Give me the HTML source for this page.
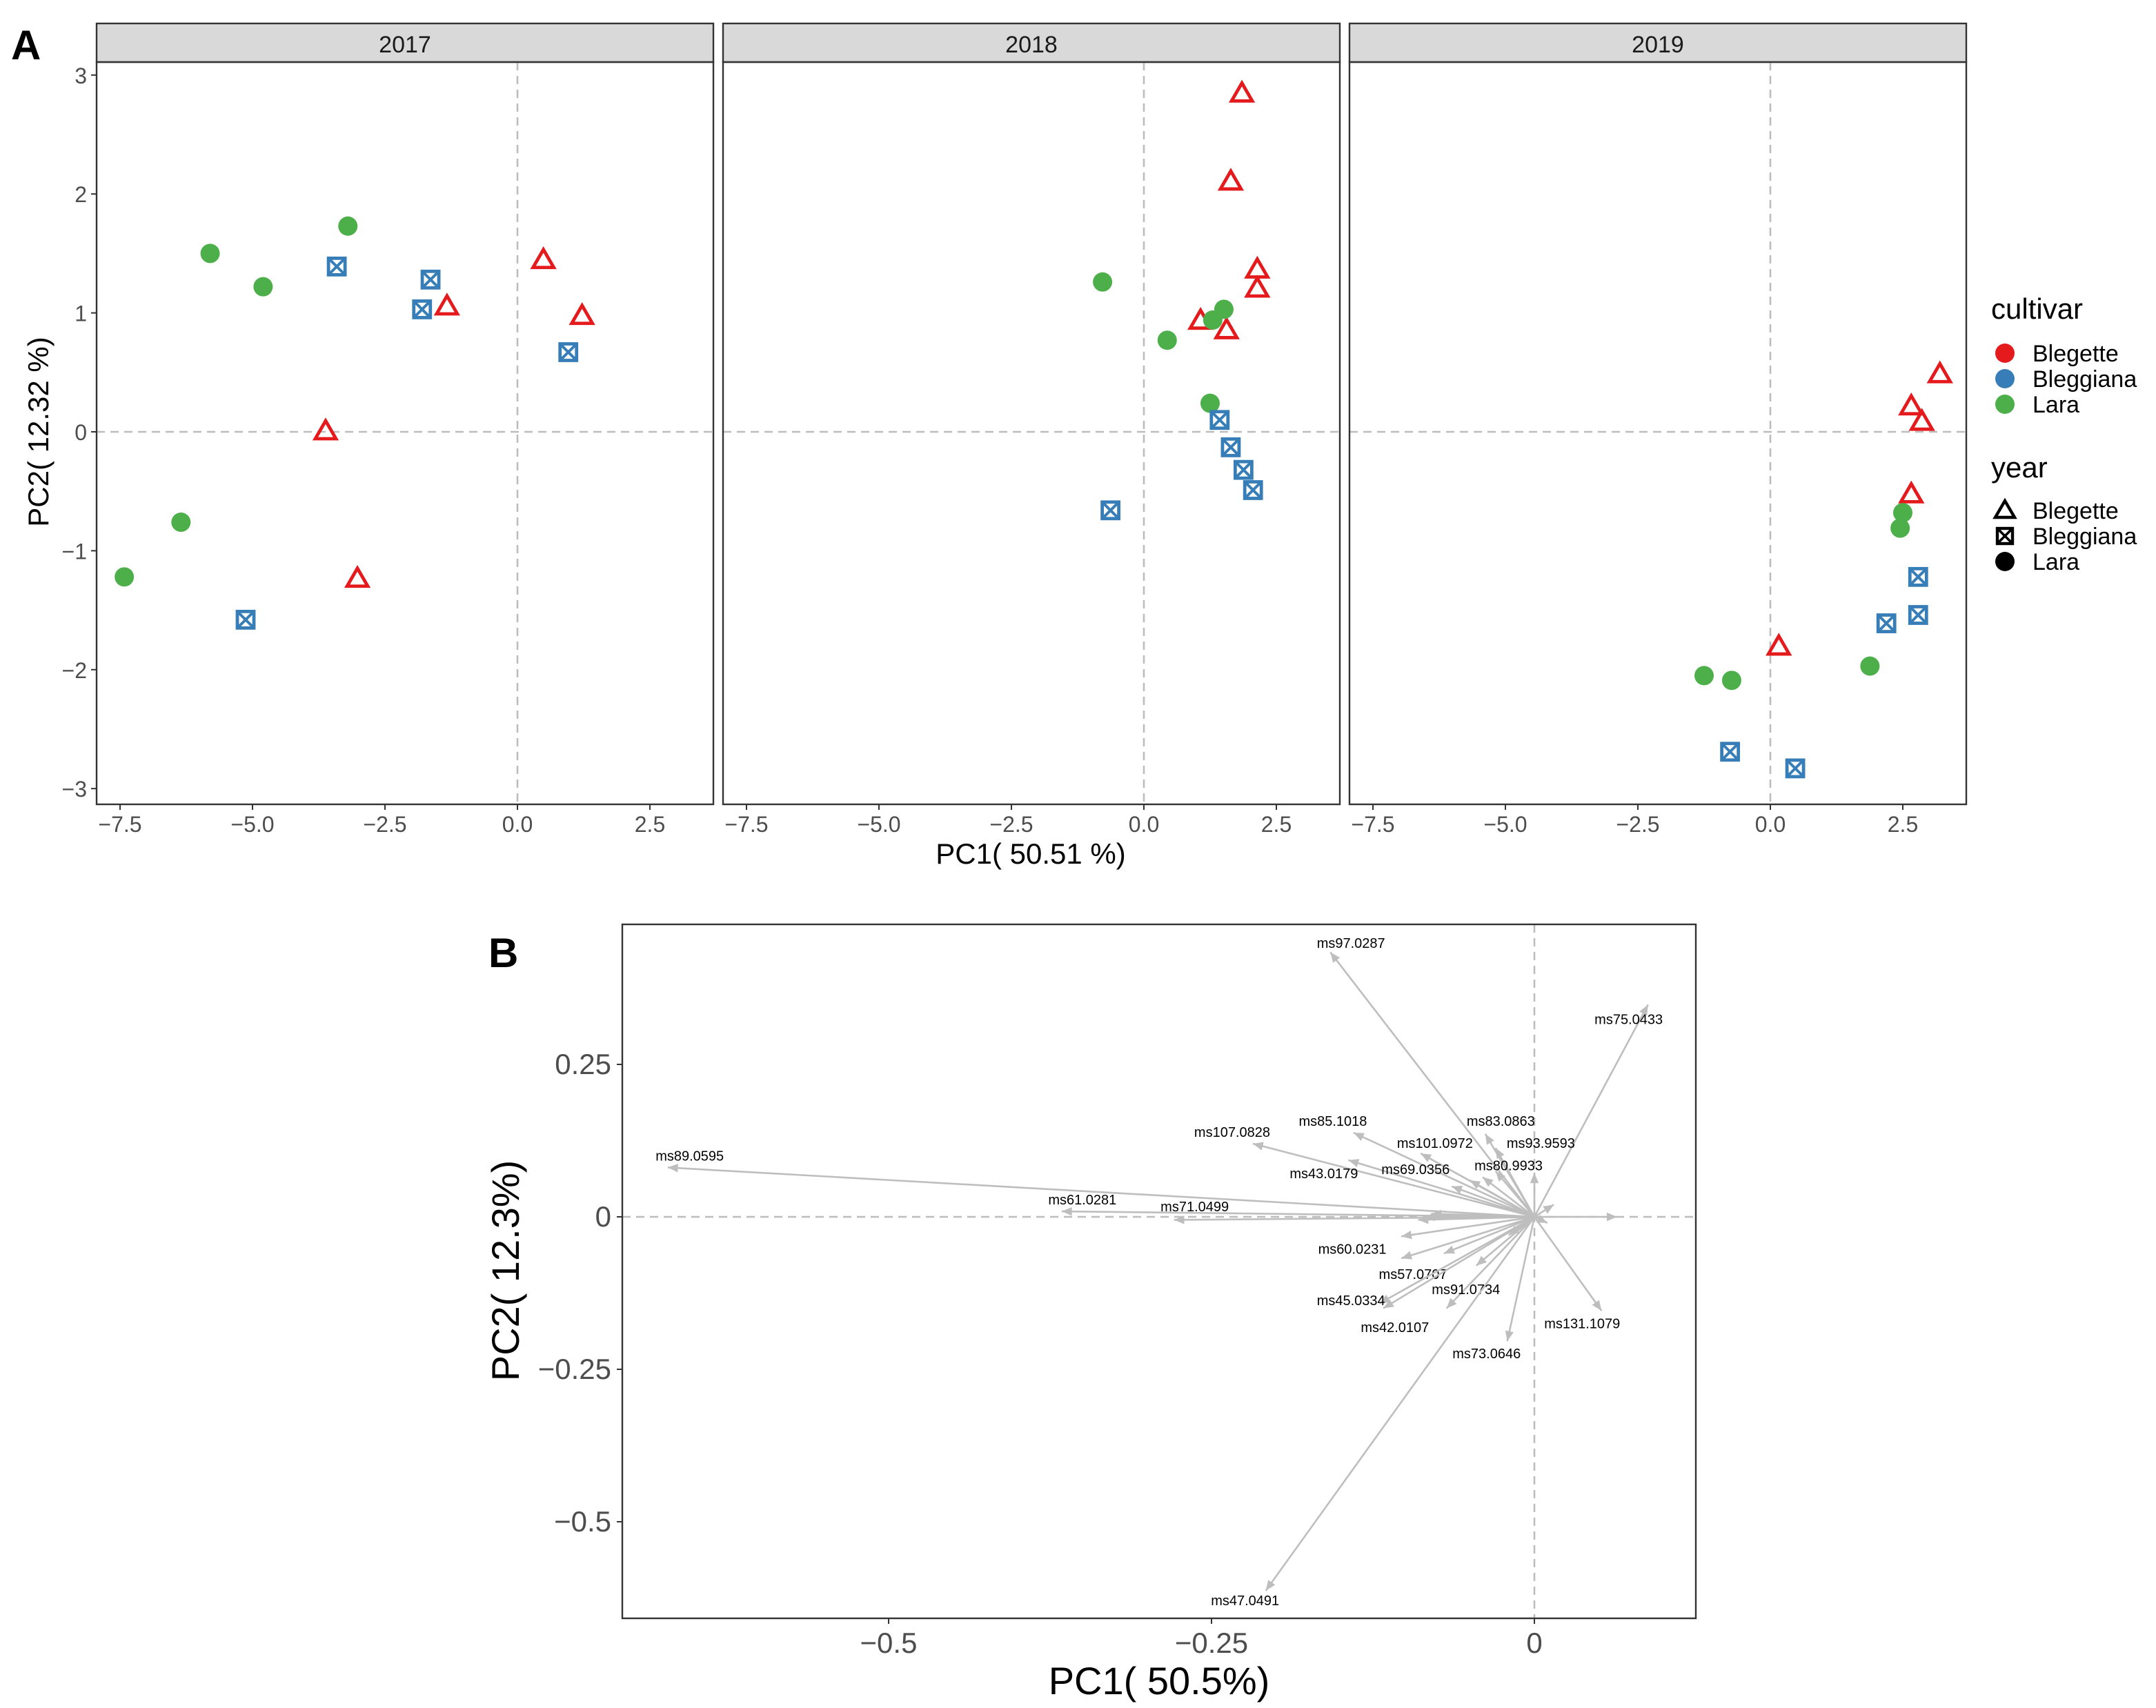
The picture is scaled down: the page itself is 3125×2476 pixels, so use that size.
<!DOCTYPE html>
<html><head><meta charset="utf-8"><style>
html,body{margin:0;padding:0;background:#fff}
svg{display:block;font-family:"Liberation Sans",Arial,sans-serif}
</style></head><body>
<svg id="s" width="3125" height="2476" viewBox="0 0 1562.5 1238" xmlns="http://www.w3.org/2000/svg"></svg>
<script>
// ---- Panel A data ----
const years = ["2017","2018","2019"];
const cultivars = ["Blegette","Bleggiana","Lara"];
const colors = {"Blegette":"#e41a1c","Bleggiana":"#377eb8","Lara":"#4daf4a"};
const p2017_lara_x=[-5.8,-4.8,-3.2,-6.35,-7.42], p2017_lara_y=[1.5,1.22,1.73,-0.76,-1.22];
const p2017_blgi_x=[-3.41,-1.64,-1.8,0.96,-5.13], p2017_blgi_y=[1.39,1.28,1.03,0.67,-1.58];
const p2017_blge_x=[0.49,1.22,-1.33,-3.62,-3.02], p2017_blge_y=[1.44,0.97,1.05,0.0,-1.24];
const p2018_blge_x=[1.85,1.64,2.14,2.14,1.07,1.56], p2018_blge_y=[2.84,2.1,1.36,1.2,0.93,0.85];
const p2018_lara_x=[-0.78,0.44,1.3,1.51,1.25], p2018_lara_y=[1.26,0.77,0.94,1.03,0.24];
const p2018_blgi_x=[1.43,1.64,1.88,2.06,-0.63], p2018_blgi_y=[0.1,-0.13,-0.32,-0.49,-0.66];
const p2019_blge_x=[3.2,2.66,2.86,2.66,0.16], p2019_blge_y=[0.48,0.21,0.08,-0.53,-1.81];
const p2019_lara_x=[2.5,2.45,1.88,-1.25,-0.73], p2019_lara_y=[-0.68,-0.81,-1.97,-2.05,-2.09];
const p2019_blgi_x=[2.79,2.79,2.19,-0.76,0.47], p2019_blgi_y=[-1.22,-1.54,-1.61,-2.69,-2.83];
const xTicksA=[-7.5,-5.0,-2.5,0.0,2.5];
const xTickLabelsA=["\u22127.5","\u22125.0","\u22122.5","0.0","2.5"];
const yTicksA=[3,2,1,0,-1,-2,-3];
const yTickLabelsA=["3","2","1","0","\u22121","\u22122","\u22123"];
// ---- Panel B data ----
const varNames=["ms97.0287","ms75.0433","ms89.0595","ms61.0281","ms71.0499","ms107.0828","ms85.1018","ms43.0179","ms101.0972","ms83.0863","ms93.9593","ms69.0356","ms80.9933","ms60.0231","ms57.0707","ms45.0334","ms42.0107","ms91.0734","ms73.0646","ms131.1079","ms47.0491","","","","","","","","","","","",""];
const varX=[-0.158,0.088,-0.671,-0.366,-0.279,-0.218,-0.14,-0.144,-0.088,-0.038,-0.03,-0.064,0.0,-0.103,-0.103,-0.12,-0.117,-0.068,-0.021,0.052,-0.208,0.064,-0.085,-0.05,-0.07,-0.045,-0.02,-0.08,-0.09,0.01,0.015,-0.04,-0.03];
const varY=[0.434,0.348,0.081,0.009,-0.005,0.12,0.138,0.093,0.104,0.136,0.113,0.05,0.072,-0.032,-0.068,-0.142,-0.15,-0.15,-0.204,-0.154,-0.613,0.0,0.0,0.06,-0.06,-0.08,-0.03,0.005,-0.005,-0.01,0.02,0.065,0.075];
const labX=[-0.142,0.073,-0.654,-0.35,-0.263,-0.234,-0.156,-0.163,-0.077,-0.026,0.005,-0.092,-0.02,-0.141,-0.094,-0.142,-0.108,-0.053,-0.037,0.037,-0.224,0,0,0,0,0,0,0,0,0,0,0,0];
const labY=[0.448,0.323,0.099,0.027,0.016,0.138,0.156,0.07,0.12,0.156,0.12,0.077,0.083,-0.054,-0.095,-0.138,-0.182,-0.12,-0.225,-0.176,-0.63,0,0,0,0,0,0,0,0,0,0,0,0];
const xTicksB=[-0.5,-0.25,0];
const xTickLabelsB=["\u22120.50","\u22120.25","0"].map((s,i)=>["\u22120.5","\u22120.25","0"][i]);
const yTicksB=[0.25,0,-0.25,-0.5];
const yTickLabelsB=["0.25","0","\u22120.25","\u22120.5"];

const S=document.getElementById('s');
const NS="http://www.w3.org/2000/svg";
function el(tag,attrs,parent,text){const e=document.createElementNS(NS,tag);for(const k in attrs)e.setAttribute(k,attrs[k]);if(text!==undefined)e.textContent=text;(parent||S).appendChild(e);return e;}

// Panel A scales
const panelX0=[70,524,978], panelW=447, pTop=45, pBot=583;
function ax(p,v){return panelX0[p]+305+v*38.4;}
function ay(v){return 313-v*86.2;}
const GREY="#4d4d4d";
years.forEach((yr,p)=>{
  const g=el('g',{},S);
  
  
  const strip=el('rect',{x:panelX0[p],y:17,width:panelW,height:28,fill:'#d9d9d9',stroke:'#333','stroke-width':1.2},g);
  
  
  const st=el('text',{x:panelX0[p]+panelW/2,y:38,'font-size':17,'text-anchor':'middle',fill:'#1a1a1a'},g,yr);
  
  
  el('line',{x1:panelX0[p],x2:panelX0[p]+panelW,y1:ay(0),y2:ay(0),stroke:'#bdbdbd','stroke-dasharray':'6,4','stroke-width':1.3},g);
  el('line',{x1:ax(p,0),x2:ax(p,0),y1:pTop,y2:pBot,stroke:'#bdbdbd','stroke-dasharray':'6,4','stroke-width':1.3},g);
  el('rect',{x:panelX0[p],y:pTop,width:panelW,height:pBot-pTop,fill:'none',stroke:'#333','stroke-width':1.2},g);
  xTicksA.forEach((t,i)=>{
    el('line',{x1:ax(p,t),x2:ax(p,t),y1:pBot,y2:pBot+4,stroke:'#333','stroke-width':1},g);
    const tl=el('text',{x:ax(p,t),y:pBot+20,'font-size':16,'text-anchor':'middle',fill:GREY},g,xTickLabelsA[i]);
    
    
  });
});
yTicksA.forEach((t,i)=>{
  el('line',{x1:66,x2:70,y1:ay(t),y2:ay(t),stroke:'#333','stroke-width':1});
  const tl=el('text',{x:63,y:ay(t)+6,'font-size':16,'text-anchor':'end',fill:GREY},S,yTickLabelsA[i]);
  
  
});
function drawMark(cx,cy,cult,parent){
  const c=colors[cult];
  if(cult==="Lara"){el('circle',{cx:cx,cy:cy,r:7,fill:c},parent);}
  else if(cult==="Blegette"){el('polygon',{points:`${cx},${cy-8} ${cx+7.5},${cy+5} ${cx-7.5},${cy+5}`,fill:'none',stroke:c,'stroke-width':2.4},parent);}
  else{el('rect',{x:cx-6,y:cy-6,width:12,height:12,fill:'none',stroke:c,'stroke-width':2.4},parent);
    el('line',{x1:cx-6,y1:cy-6,x2:cx+6,y2:cy+6,stroke:c,'stroke-width':2},parent);
    el('line',{x1:cx+6,y1:cy-6,x2:cx-6,y2:cy+6,stroke:c,'stroke-width':2},parent);}
}
const series=[[0,"Lara",p2017_lara_x,p2017_lara_y],[0,"Bleggiana",p2017_blgi_x,p2017_blgi_y],[0,"Blegette",p2017_blge_x,p2017_blge_y],
[1,"Blegette",p2018_blge_x,p2018_blge_y],[1,"Lara",p2018_lara_x,p2018_lara_y],[1,"Bleggiana",p2018_blgi_x,p2018_blgi_y],
[2,"Blegette",p2019_blge_x,p2019_blge_y],[2,"Lara",p2019_lara_x,p2019_lara_y],[2,"Bleggiana",p2019_blgi_x,p2019_blgi_y]];
series.forEach(([p,cult,xs,ys])=>{
  xs.forEach((x,i)=>{
    const g=el('g',{},S);
    
    
    drawMark(ax(p,x),ay(ys[i]),cult,g);
  });
});
let t;
t=el('text',{x:747,y:626,'font-size':21,'text-anchor':'middle',fill:'#000'},S,'PC1( 50.51 %)');

t=el('text',{x:0,y:0,'font-size':21,'text-anchor':'middle',fill:'#000',transform:'translate(35,313) rotate(-90)'},S,'PC2( 12.32 %)');

t=el('text',{x:8,y:43,'font-size':30,'font-weight':'bold',fill:'#000'},S,'A');

// Legend
t=el('text',{x:1443,y:231,'font-size':21,fill:'#000'},S,'cultivar');

cultivars.forEach((c,i)=>{
  const g=el('g',{},S);
  
  
  el('circle',{cx:1453,cy:256+i*18.5,r:7,fill:colors[c]},g);
  el('text',{x:1473,y:262+i*18.5,'font-size':17,fill:'#000'},g,c);
});
t=el('text',{x:1443,y:346,'font-size':21,fill:'#000'},S,'year');

cultivars.forEach((c,i)=>{
  const g=el('g',{},S);
  
  
  const cx=1453,cy=370+i*18.5;
  if(i===0)el('polygon',{points:`${cx},${cy-7} ${cx+7},${cy+5} ${cx-7},${cy+5}`,fill:'none',stroke:'#000','stroke-width':2.2},g);
  else if(i===1){el('rect',{x:cx-5.5,y:cy-5.5,width:11,height:11,fill:'none',stroke:'#000','stroke-width':2.2},g);el('line',{x1:cx-5.5,y1:cy-5.5,x2:cx+5.5,y2:cy+5.5,stroke:'#000','stroke-width':1.8},g);el('line',{x1:cx+5.5,y1:cy-5.5,x2:cx-5.5,y2:cy+5.5,stroke:'#000','stroke-width':1.8},g);}
  else el('circle',{cx:cx,cy:cy,r:7,fill:'#000'},g);
  el('text',{x:1473,y:cy+6,'font-size':17,fill:'#000'},g,c);
});

// Panel B
const bx0=451,bx1=1229,by0=670,by1=1173;
function bx(v){return 1112+v*936;}
function by(v){return 882-v*442;}
const gB=el('g',{},S);


el('line',{x1:bx0,x2:bx1,y1:by(0),y2:by(0),stroke:'#bdbdbd','stroke-dasharray':'6,4','stroke-width':1.3},gB);
el('line',{x1:bx(0),x2:bx(0),y1:by0,y2:by1,stroke:'#bdbdbd','stroke-dasharray':'6,4','stroke-width':1.3},gB);
varX.forEach((vx,i)=>{
  const x2=bx(vx),y2=by(varY[i]),x1=bx(0),y1=by(0);
  const g=el('g',{},gB);
  
  
  el('line',{x1:x1,y1:y1,x2:x2,y2:y2,stroke:'#bebebe','stroke-width':1.3},g);
  const a=Math.atan2(y2-y1,x2-x1),L=8,w=0.4;
  el('polygon',{points:`${x2},${y2} ${x2-L*Math.cos(a-w)},${y2-L*Math.sin(a-w)} ${x2-L*Math.cos(a+w)},${y2-L*Math.sin(a+w)}`,fill:'#bebebe'},g);
  if(varNames[i]){
    const lt=el('text',{x:bx(labX[i]),y:by(labY[i])+3,'font-size':10,'text-anchor':'middle',fill:'#000'},gB,varNames[i]);
    
    
  }
});
el('rect',{x:bx0,y:by0,width:bx1-bx0,height:by1-by0,fill:'none',stroke:'#333','stroke-width':1.2},gB);
xTicksB.forEach((v,i)=>{
  el('line',{x1:bx(v),x2:bx(v),y1:by1,y2:by1+4,stroke:'#333'},gB);
  const tl=el('text',{x:bx(v),y:by1+25,'font-size':21,'text-anchor':'middle',fill:GREY},gB,xTickLabelsB[i]);
  
  
});
yTicksB.forEach((v,i)=>{
  el('line',{x1:bx0-4,x2:bx0,y1:by(v),y2:by(v),stroke:'#333'},gB);
  const tl=el('text',{x:bx0-8,y:by(v)+7,'font-size':21,'text-anchor':'end',fill:GREY},gB,yTickLabelsB[i]);
  
  
});
t=el('text',{x:840,y:1228,'font-size':28,'text-anchor':'middle',fill:'#000'},S,'PC1( 50.5%)');

t=el('text',{x:0,y:0,'font-size':28,'text-anchor':'middle',fill:'#000',transform:'translate(376,921) rotate(-90)'},S,'PC2( 12.3%)');

t=el('text',{x:354,y:701,'font-size':30,'font-weight':'bold',fill:'#000'},S,'B');

</script>
</body></html>
